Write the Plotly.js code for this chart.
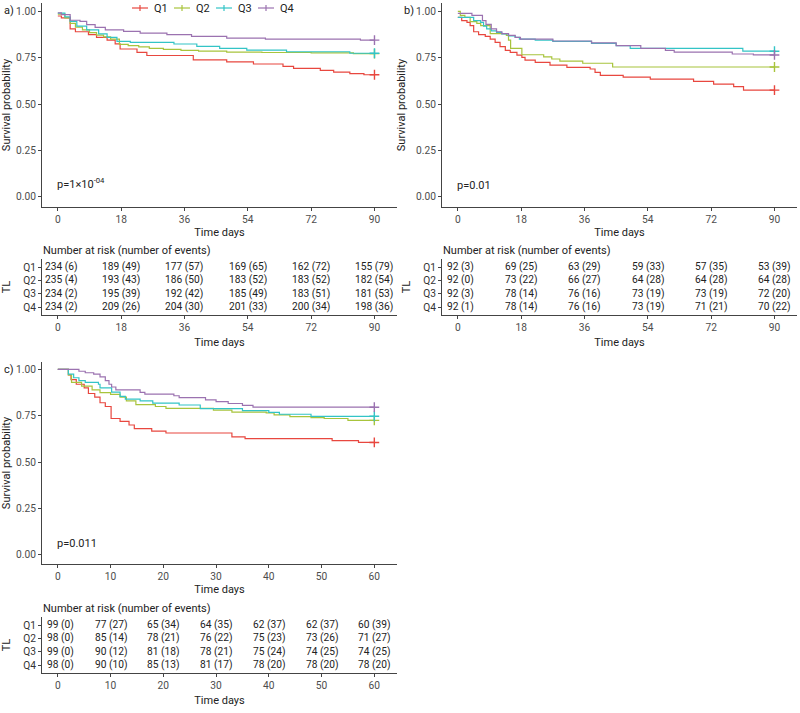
<!DOCTYPE html>
<html><head><meta charset="utf-8">
<script src="https://cdn.plot.ly/plotly-3.0.1.min.js"></script>
<style>html,body{margin:0;padding:0;background:#fff}#chart{width:800px;height:713px}</style>
</head><body><div id="chart"></div>
<script>
// ---------- DATA ----------
const groups = ['Q1','Q2','Q3','Q4'];

// Panel a (90 days)
const a_Q1_t = [0,1,3.5,5,8.7,11,14,16.3,17.7,22.5,25.3,38.5,48,55.6,64,67,74.6,78.4,83,87,90];
const a_Q1_s = [0.975,0.965,0.905,0.89,0.875,0.86,0.845,0.825,0.797,0.779,0.762,0.738,0.728,0.716,0.703,0.692,0.682,0.672,0.664,0.658,0.658];
const a_Q2_t = [0,2,3.5,5,7,9,11,13,15,17.5,20,23,26,30,35,40,48,58,72,84,90];
const a_Q2_s = [0.985,0.965,0.935,0.915,0.9,0.885,0.872,0.862,0.85,0.822,0.815,0.808,0.8,0.795,0.79,0.785,0.78,0.778,0.776,0.772,0.772];
const a_Q3_t = [0,2,3.5,5.4,8.2,11.6,14,16.8,20.6,33,39.5,46,53.7,65,83,90];
const a_Q3_s = [0.99,0.97,0.946,0.92,0.9,0.878,0.86,0.838,0.833,0.824,0.811,0.8,0.791,0.782,0.774,0.774];
const a_Q4_t = [0,1,3.5,6.3,8.2,10.6,13.5,18.7,23.4,31,38,48,59,86,90];
const a_Q4_s = [0.992,0.982,0.952,0.946,0.928,0.914,0.9,0.892,0.883,0.874,0.865,0.856,0.85,0.845,0.845];

// Panel b (90 days)
const b_Q1_t = [0,1.1,2.6,3.5,4.5,5.9,7.8,9.2,10.6,12,13.5,14.9,16.8,18.2,19.1,22,26.2,31,37.6,39,40.5,47,54.7,67,72.7,78.4,81.2,90];
const b_Q1_s = [0.968,0.95,0.94,0.923,0.89,0.875,0.865,0.85,0.833,0.81,0.79,0.779,0.764,0.752,0.737,0.725,0.71,0.698,0.689,0.671,0.655,0.645,0.635,0.622,0.608,0.594,0.575,0.575];
const b_Q2_t = [0,0.7,2,3.5,5.4,6.5,9.2,13.8,14.4,15,18.2,24.4,26.7,29,35.5,44,90];
const b_Q2_s = [1.0,0.978,0.967,0.945,0.935,0.923,0.88,0.87,0.845,0.8,0.766,0.755,0.743,0.732,0.72,0.7,0.7];
const b_Q3_t = [0,4.5,6.5,7.3,8.2,9.5,11,12.5,14.4,16.3,17.5,22,27,38,45,49,81,90];
const b_Q3_s = [0.968,0.95,0.94,0.92,0.905,0.895,0.887,0.878,0.868,0.86,0.85,0.845,0.838,0.827,0.815,0.8,0.785,0.785];
const b_Q4_t = [0,4,7,8,9.5,11,12.5,14.4,16.3,17.8,27,38,45,52,59,61.5,78,84,90];
const b_Q4_s = [0.989,0.978,0.95,0.93,0.905,0.89,0.88,0.87,0.86,0.85,0.84,0.83,0.815,0.8,0.79,0.78,0.77,0.765,0.765];

// Panel c (60 days)
const c_Q1_t = [0,2,2.5,3.5,5,5.8,7,8,9,10.1,11.8,13.5,14.5,17.8,20.5,33,35.5,52,57,60];
const c_Q1_s = [1,0.97,0.945,0.92,0.9,0.87,0.85,0.82,0.8,0.735,0.72,0.7,0.68,0.667,0.657,0.636,0.626,0.616,0.606,0.606];
const c_Q2_t = [0,2,2.6,4.5,6.5,8,10,11.8,13,14.8,18.5,20.5,29.5,33,39.5,41,44,48,50.5,55,60];
const c_Q2_s = [1,0.97,0.93,0.91,0.89,0.875,0.865,0.85,0.83,0.81,0.8,0.79,0.78,0.77,0.765,0.755,0.745,0.74,0.735,0.725,0.725];
const c_Q3_t = [0,2,3,4,5.2,7.7,8,10.2,11.8,12.8,15.6,18,23,27,35,40,42,48,60];
const c_Q3_s = [1,0.975,0.955,0.94,0.93,0.92,0.9,0.877,0.855,0.84,0.83,0.818,0.808,0.788,0.778,0.768,0.758,0.747,0.747];
const c_Q4_t = [0,4,5.2,6.8,8,9,9.7,10.2,11,15.6,16.5,22,23,28,30,32.3,35,37,60];
const c_Q4_s = [1,0.99,0.982,0.975,0.96,0.94,0.92,0.905,0.89,0.876,0.867,0.858,0.848,0.836,0.826,0.816,0.806,0.796,0.796];

// Risk tables
const ab_times = [0,18,36,54,72,90];
const c_times = [0,10,20,30,40,50,60];

const a_risk_Q1 = [234,189,177,169,162,155], a_ev_Q1 = [6,49,57,65,72,79];
const a_risk_Q2 = [235,193,186,183,183,182], a_ev_Q2 = [4,43,50,52,52,54];
const a_risk_Q3 = [234,195,192,185,183,181], a_ev_Q3 = [2,39,42,49,51,53];
const a_risk_Q4 = [234,209,204,201,200,198], a_ev_Q4 = [2,26,30,33,34,36];

const b_risk_Q1 = [92,69,63,59,57,53], b_ev_Q1 = [3,25,29,33,35,39];
const b_risk_Q2 = [92,73,66,64,64,64], b_ev_Q2 = [0,22,27,28,28,28];
const b_risk_Q3 = [92,78,76,73,73,72], b_ev_Q3 = [3,14,16,19,19,20];
const b_risk_Q4 = [92,78,76,73,71,70], b_ev_Q4 = [1,14,16,19,21,22];

const c_risk_Q1 = [99,77,65,64,62,62,60], c_ev_Q1 = [0,27,34,35,37,37,39];
const c_risk_Q2 = [98,85,78,76,75,73,71], c_ev_Q2 = [0,14,21,22,23,26,27];
const c_risk_Q3 = [99,90,81,78,75,74,74], c_ev_Q3 = [0,12,18,21,24,25,25];
const c_risk_Q4 = [98,90,85,81,78,78,78], c_ev_Q4 = [0,10,13,17,20,20,20];

const pvals = ['p=1×10<sup>-04</sup>', 'p=0.01', 'p=0.011'];
const surv_ticks = [0,0.25,0.5,0.75,1];
const surv_ticktext = ['0.00','0.25','0.50','0.75','1.00'];

// ---------- STYLE / LAYOUT ----------
const colors = ['#e8473f','#a8c43c','#33c4c6','#9b72b0'];
const FONT = 'Roboto, "DejaVu Sans", sans-serif';
const W = 800, H = 713;
const px = p => p / W;
const py = p => 1 - p / H;
const xdom = (l, r) => [l / W, r / W];
const ydom = (t, b) => [1 - b / H, 1 - t / H];

const curves = {
  a: [[a_Q1_t,a_Q1_s],[a_Q2_t,a_Q2_s],[a_Q3_t,a_Q3_s],[a_Q4_t,a_Q4_s]],
  b: [[b_Q1_t,b_Q1_s],[b_Q2_t,b_Q2_s],[b_Q3_t,b_Q3_s],[b_Q4_t,b_Q4_s]],
  c: [[c_Q1_t,c_Q1_s],[c_Q2_t,c_Q2_s],[c_Q3_t,c_Q3_s],[c_Q4_t,c_Q4_s]]
};
const tables = {
  a: [[a_risk_Q1,a_ev_Q1],[a_risk_Q2,a_ev_Q2],[a_risk_Q3,a_ev_Q3],[a_risk_Q4,a_ev_Q4]],
  b: [[b_risk_Q1,b_ev_Q1],[b_risk_Q2,b_ev_Q2],[b_risk_Q3,b_ev_Q3],[b_risk_Q4,b_ev_Q4]],
  c: [[c_risk_Q1,c_ev_Q1],[c_risk_Q2,c_ev_Q2],[c_risk_Q3,c_ev_Q3],[c_risk_Q4,c_ev_Q4]]
};
const tableTimes = {a: ab_times, b: ab_times, c: c_times};
const axisIdx = {a: '', b: '2', c: '3'};
const tabIdx = {a: '4', b: '5', c: '6'};

const traces = [];
const tableAnn = [];
['a','b','c'].forEach(k => {
  const ix = axisIdx[k];
  curves[k].forEach((ts, gi) => {
    const [t, s] = ts;
    traces.push({
      x: t, y: s, type: 'scatter', mode: 'lines',
      line: {shape: 'hv', color: colors[gi], width: 1.2},
      xaxis: 'x' + ix, yaxis: 'y' + ix, showlegend: false, hoverinfo: 'skip'
    });
    // censor mark at the end of follow-up
    traces.push({
      x: [t[t.length - 1]], y: [s[s.length - 1]], type: 'scatter', mode: 'markers',
      marker: {symbol: 'cross-thin', size: 7, color: colors[gi], line: {color: colors[gi], width: 1.4}},
      xaxis: 'x' + ix, yaxis: 'y' + ix, showlegend: false, hoverinfo: 'skip', cliponaxis: false
    });
  });
  const ti = tabIdx[k];
  tables[k].forEach((rv, gi) => {
    const [n, e] = rv;
    // invisible anchor points so that the table axes exist
    traces.push({
      x: tableTimes[k], y: tableTimes[k].map(() => groups[gi]),
      type: 'scatter', mode: 'markers', marker: {opacity: 0, size: 1},
      xaxis: 'x' + ti, yaxis: 'y' + ti, showlegend: false, hoverinfo: 'skip'
    });
    tableTimes[k].forEach((tv, i) => {
      tableAnn.push({
        x: tv, y: gi, xref: 'x' + ti, yref: 'y' + ti, text: n[i] + ' (' + e[i] + ')',
        showarrow: false, xanchor: 'center', yanchor: 'middle', xshift: i === 0 ? 3 : 0,
        font: {family: FONT, size: 10.2, color: '#222'}
      });
    });
  });
});

const base = {
  showline: true, linecolor: '#444', linewidth: 1, ticks: 'outside', ticklen: 3,
  tickcolor: '#444', tickwidth: 1, showgrid: false, zeroline: false, fixedrange: true,
  tickfont: {family: FONT, size: 10.2, color: '#4d4d4d'}
};
const ttl = (text, standoff) => ({text, font: {family: FONT, size: 11, color: '#222'}, standoff});
const catAxis = (top, bottom, anchor) => Object.assign({}, base, {
  domain: ydom(top, bottom), type: 'category', categoryarray: groups, range: [3.6, -0.6],
  anchor, title: ttl('TL', 10), tickfont: {family: FONT, size: 10.2, color: '#333'}
});

const layout = {
  width: W, height: H, margin: {l: 0, r: 0, t: 0, b: 0},
  paper_bgcolor: '#fff', plot_bgcolor: '#fff', showlegend: false,
  font: {family: FONT},
  // survival plots
  xaxis:  Object.assign({}, base, {domain: xdom(42,397), range: [-4.5,96.4], tickvals: ab_times, anchor: 'y', title: ttl('Time days', 4)}),
  yaxis:  Object.assign({}, base, {domain: ydom(3,207), range: [-0.055,1.045], tickvals: surv_ticks, ticktext: surv_ticktext, anchor: 'x', title: ttl('Survival probability', 8)}),
  xaxis2: Object.assign({}, base, {domain: xdom(442,797), range: [-4.5,96.4], tickvals: ab_times, anchor: 'y2', title: ttl('Time days', 4)}),
  yaxis2: Object.assign({}, base, {domain: ydom(3,207), range: [-0.055,1.045], tickvals: surv_ticks, ticktext: surv_ticktext, anchor: 'x2', title: ttl('Survival probability', 8)}),
  xaxis3: Object.assign({}, base, {domain: xdom(42,397), range: [-3,64.3], tickvals: c_times, anchor: 'y3', title: ttl('Time days', 4)}),
  yaxis3: Object.assign({}, base, {domain: ydom(362,564), range: [-0.05,1.04], tickvals: surv_ticks, ticktext: surv_ticktext, anchor: 'x3', title: ttl('Survival probability', 8)}),
  // risk tables
  xaxis4: Object.assign({}, base, {domain: xdom(42,397), range: [-4.5,96.4], tickvals: ab_times, anchor: 'y4', title: ttl('Time days', 6)}),
  yaxis4: catAxis(259, 315, 'x4'),
  xaxis5: Object.assign({}, base, {domain: xdom(442,797), range: [-4.5,96.4], tickvals: ab_times, anchor: 'y5', title: ttl('Time days', 6)}),
  yaxis5: catAxis(259, 315, 'x5'),
  xaxis6: Object.assign({}, base, {domain: xdom(42,397), range: [-3,64.3], tickvals: c_times, anchor: 'y6', title: ttl('Time days', 6)}),
  yaxis6: catAxis(617, 673, 'x6'),
  annotations: tableAnn,
  shapes: []
};

const ann = (x, y, text, opts) => Object.assign({x, y, text, xref: 'paper', yref: 'paper', showarrow: false,
  xanchor: 'left', yanchor: 'middle', font: {family: FONT, size: 11, color: '#222'}}, opts || {});

// panel labels
layout.annotations.push(ann(px(2), py(11), 'a)'));
layout.annotations.push(ann(px(402), py(11), 'b)'));
layout.annotations.push(ann(px(2), py(369), 'c)'));
// p-values
layout.annotations.push(ann(0, 0.06, pvals[0], {xref: 'x', yref: 'y', xshift: -3, yshift: 2}));
layout.annotations.push(ann(0, 0.06, pvals[1], {xref: 'x2', yref: 'y2', xshift: -3}));
layout.annotations.push(ann(0, 0.06, pvals[2], {xref: 'x3', yref: 'y3', xshift: -3}));
// risk table headers
const hdr = 'Number at risk (number of events)';
layout.annotations.push(ann(px(41), py(250), hdr));
layout.annotations.push(ann(px(441), py(250), hdr));
layout.annotations.push(ann(px(41), py(608), hdr));

// manual legend
const legX = [132, 174, 216, 258];
groups.forEach((g, i) => {
  const x0 = legX[i], x1 = legX[i] + 16, xm = (x0 + x1) / 2;
  layout.shapes.push({type: 'line', xref: 'paper', yref: 'paper', x0: px(x0), x1: px(x1), y0: py(8), y1: py(8), line: {color: colors[i], width: 1.2}});
  layout.shapes.push({type: 'line', xref: 'paper', yref: 'paper', x0: px(xm), x1: px(xm), y0: py(5), y1: py(11), line: {color: colors[i], width: 1.2}});
  layout.annotations.push(ann(px(x1 + 4), py(8), g, {font: {family: FONT, size: 11, color: '#222'}}));
});

Plotly.newPlot('chart', traces, layout, {displayModeBar: false, staticPlot: true});
</script></body></html>
